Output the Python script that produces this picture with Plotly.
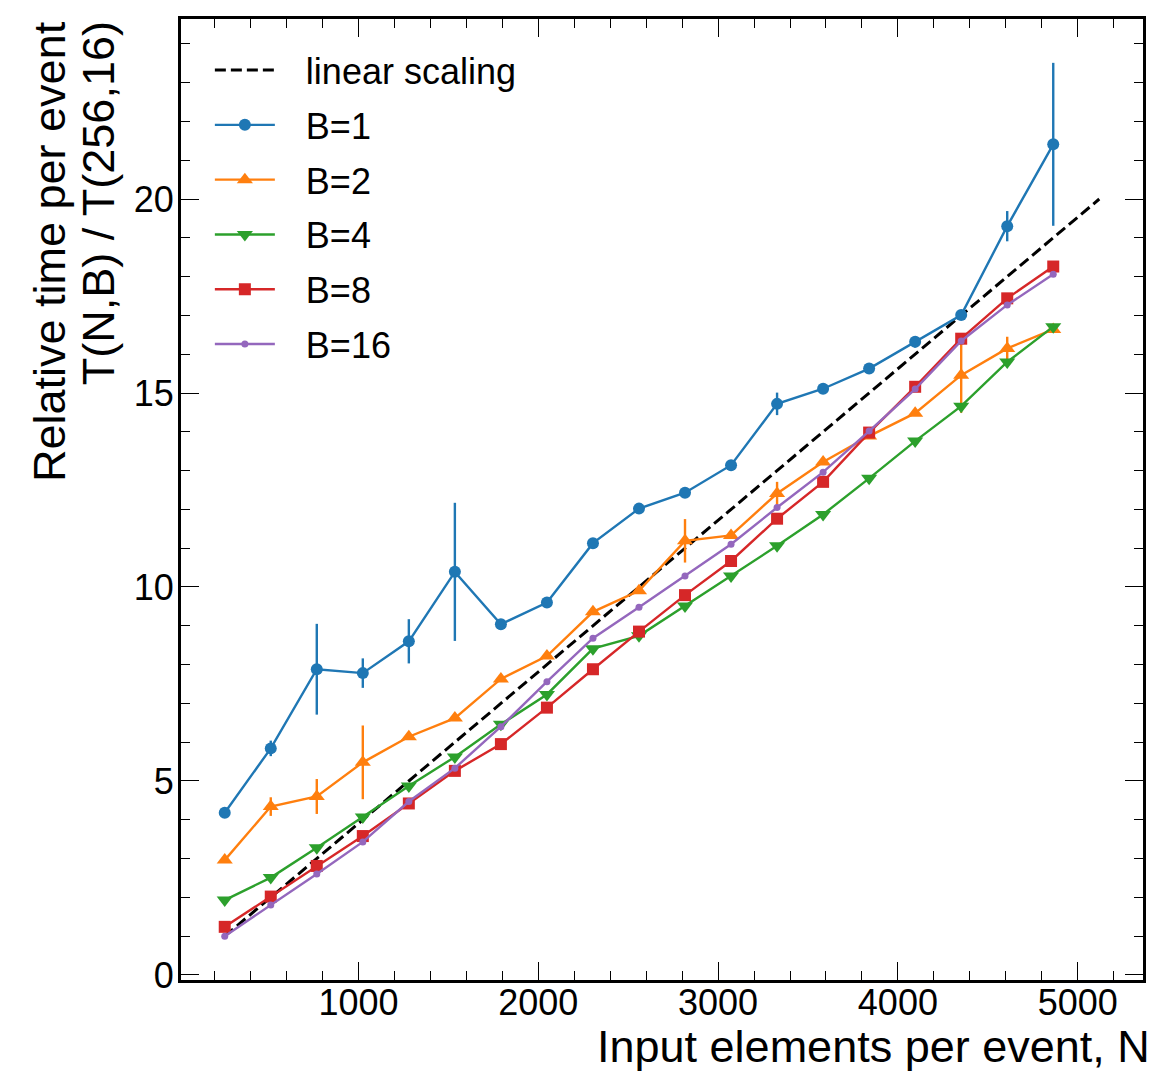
import plotly.graph_objects as go

# Data
N = [256, 512, 768, 1024, 1280, 1536, 1792, 2048, 2304, 2560,
     2816, 3072, 3328, 3584, 3840, 4096, 4352, 4608, 4864]

linear_x = [256, 5120]
linear_y = [1, 20]

B1 = [4.18, 5.84, 7.88, 7.78, 8.60, 10.39, 9.04, 9.60, 11.13, 12.02,
      12.43, 13.14, 14.72, 15.11, 15.63, 16.32, 17.01, 19.30, 21.41]
B1_err = [0.08, 0.2, 1.17, 0.38, 0.57, 1.78, 0.08, 0.08, 0.08, 0.08,
          0.08, 0.08, 0.29, 0.08, 0.08, 0.15, 0.08, 0.39, 2.1]

B2 = [2.96, 4.34, 4.60, 5.48, 6.14, 6.62, 7.63, 8.22, 9.36, 9.90,
      11.19, 11.33, 12.41, 13.22, 13.89, 14.48, 15.46, 16.15, 16.64]
B2_err = [0.05, 0.24, 0.45, 0.95, 0.05, 0.05, 0.05, 0.05, 0.05, 0.05,
          0.56, 0.05, 0.3, 0.05, 0.05, 0.05, 0.97, 0.3, 0.05]

B4 = [1.93, 2.51, 3.28, 4.07, 4.87, 5.62, 6.46, 7.23, 8.41, 8.74,
      9.51, 10.28, 11.06, 11.87, 12.80, 13.76, 14.66, 15.80, 16.71]
B4_err = [0.03] * 19

B8 = [1.24, 2.02, 2.81, 3.58, 4.42, 5.26, 5.95, 6.89, 7.88, 8.85,
      9.79, 10.67, 11.76, 12.71, 13.98, 15.16, 16.40, 17.44, 18.26]
B8_err = [0.03] * 19

B16 = [1.00, 1.80, 2.60, 3.43, 4.47, 5.33, 6.40, 7.56, 8.68, 9.48,
       10.28, 11.10, 12.05, 12.96, 14.02, 15.10, 16.34, 17.27, 18.06]
B16_err = [0.03] * 19

x_ticks = [1000, 2000, 3000, 4000, 5000]
y_ticks = [0, 5, 10, 15, 20]

FONT = "Liberation Sans, Arial, Helvetica, sans-serif"
PAD = "\u00a0\u00a0\u2006"

series = [
    ("B=1", B1, B1_err, "#1f77b4", "circle", 12),
    ("B=2", B2, B2_err, "#ff7f0e", "triangle-up", 14),
    ("B=4", B4, B4_err, "#2ca02c", "triangle-down", 14),
    ("B=8", B8, B8_err, "#d62728", "square", 12),
    ("B=16", B16, B16_err, "#9467bd", "circle", 7),
]

fig = go.Figure()
fig.add_trace(go.Scatter(
    x=linear_x, y=linear_y, mode="lines", name=PAD + "linear scaling",
    legendgroup="lin",
    line=dict(color="black", width=3, dash="11px,5px"),
))
for name, ys, errs, color, sym, size in series:
    fig.add_trace(go.Scatter(
        x=N, y=ys, mode="lines+markers", name=PAD + name, legendgroup=name,
        line=dict(color=color, width=2.4),
        marker=dict(symbol=sym, size=size, color=color, line=dict(width=0)),
        error_y=dict(type="data", array=errs, visible=True, color=color,
                     thickness=2.4, width=0),
    ))

axis_common = dict(
    showline=True, linewidth=3, linecolor="black", mirror="ticks",
    ticks="inside", ticklen=18, tickwidth=1.3, tickcolor="black",
    showgrid=False, zeroline=False,
    tickfont=dict(family=FONT, size=36, color="black"),
)

fig.update_layout(
    width=1152, height=1071,
    margin=dict(l=181, r=6, t=19, b=91),
    paper_bgcolor="white", plot_bgcolor="white",
    font=dict(family=FONT, color="black"),
    showlegend=True,
    legend=dict(
        x=0.03, y=0.978, xanchor="left", yanchor="top",
        font=dict(family=FONT, size=36, color="black"),
        bgcolor="rgba(0,0,0,0)", itemwidth=60, tracegroupgap=5,
    ),
    xaxis=dict(
        range=[12.8, 5363.2], tickmode="array", tickvals=x_ticks,
        ticklabelstandoff=-11,
        minor=dict(dtick=200, tick0=0, ticks="inside", ticklen=9,
                   tickwidth=1.3, tickcolor="black", showgrid=False),
        **axis_common,
    ),
    yaxis=dict(
        range=[-0.13, 24.64], tickmode="array", tickvals=y_ticks,
        ticklabelstandoff=-3,
        minor=dict(dtick=1, tick0=0, ticks="inside", ticklen=9,
                   tickwidth=1.3, tickcolor="black", showgrid=False),
        **axis_common,
    ),
    annotations=[
        dict(text="Input elements per event, N", xref="paper", yref="paper",
             x=1.0 + 8 / 966, y=(980 - 1073) / 961, xanchor="right",
             yanchor="bottom", showarrow=False, borderpad=0,
             font=dict(family=FONT, size=45, color="black")),
        dict(text="Relative time per event", xref="paper", yref="paper",
             x=(48 - 180) / 966, y=1.0, xanchor="center", yanchor="top",
             textangle=-90, showarrow=False,
             font=dict(family=FONT, size=45, color="black")),
        dict(text="T(N,B) / T(256,16)", xref="paper", yref="paper",
             x=(97 - 180) / 966, y=1.0, xanchor="center", yanchor="top",
             textangle=-90, showarrow=False,
             font=dict(family=FONT, size=45, color="black")),
    ],
)

fig.write_html("out.html")
